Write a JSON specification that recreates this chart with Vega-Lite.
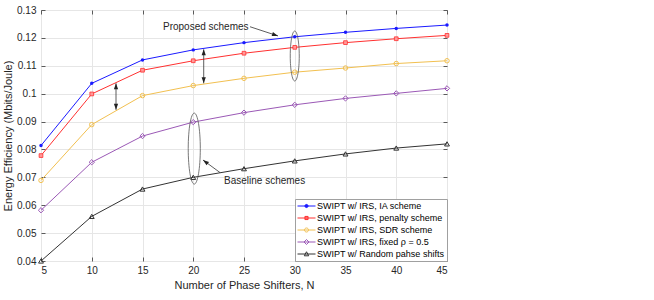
{
  "$schema": "https://vega.github.io/schema/vega-lite/v6.json",
  "width": 406,
  "height": 251,
  "autosize": {"type": "none"},
  "padding": {"left": 41, "top": 10, "right": 207, "bottom": 39},
  "config": {
    "font": "Liberation Sans",
    "view": {"stroke": "#5a5a5a", "strokeWidth": 1},
    "axis": {
      "labelFontSize": 10, "labelColor": "#262626", "labelFont": "Liberation Sans",
      "titleFontSize": 11, "titleFontWeight": "normal", "titleColor": "#262626", "titleFont": "Liberation Sans",
      "gridColor": "#e6e6e6", "gridOpacity": 1, "domain": false,
      "tickColor": "#5a5a5a", "tickSize": -4, "labelOverlap": false
    },
    "legend": {
      "orient": "bottom-right", "offset": 0, "padding": 2,
      "strokeColor": "#a0a0a0", "fillColor": "white",
      "labelFontSize": 9, "labelColor": "#000000", "labelFont": "Liberation Sans",
      "symbolSize": 81, "labelOffset": 10, "rowPadding": 2,
      "symbolStrokeWidth": 1, "labelLimit": 300
    }
  },
  "datasets": {
    "ee": [
      {"N": 5, "EE": 0.0814, "scheme": "SWIPT w/ IRS, IA scheme"},
      {"N": 10, "EE": 0.1037, "scheme": "SWIPT w/ IRS, IA scheme"},
      {"N": 15, "EE": 0.1121, "scheme": "SWIPT w/ IRS, IA scheme"},
      {"N": 20, "EE": 0.1157, "scheme": "SWIPT w/ IRS, IA scheme"},
      {"N": 25, "EE": 0.1183, "scheme": "SWIPT w/ IRS, IA scheme"},
      {"N": 30, "EE": 0.1204, "scheme": "SWIPT w/ IRS, IA scheme"},
      {"N": 35, "EE": 0.1220, "scheme": "SWIPT w/ IRS, IA scheme"},
      {"N": 40, "EE": 0.1234, "scheme": "SWIPT w/ IRS, IA scheme"},
      {"N": 45, "EE": 0.1246, "scheme": "SWIPT w/ IRS, IA scheme"},
      {"N": 5, "EE": 0.0778, "scheme": "SWIPT w/ IRS, penalty scheme"},
      {"N": 10, "EE": 0.0999, "scheme": "SWIPT w/ IRS, penalty scheme"},
      {"N": 15, "EE": 0.1084, "scheme": "SWIPT w/ IRS, penalty scheme"},
      {"N": 20, "EE": 0.1118, "scheme": "SWIPT w/ IRS, penalty scheme"},
      {"N": 25, "EE": 0.1145, "scheme": "SWIPT w/ IRS, penalty scheme"},
      {"N": 30, "EE": 0.1166, "scheme": "SWIPT w/ IRS, penalty scheme"},
      {"N": 35, "EE": 0.1183, "scheme": "SWIPT w/ IRS, penalty scheme"},
      {"N": 40, "EE": 0.1197, "scheme": "SWIPT w/ IRS, penalty scheme"},
      {"N": 45, "EE": 0.1209, "scheme": "SWIPT w/ IRS, penalty scheme"},
      {"N": 5, "EE": 0.0689, "scheme": "SWIPT w/ IRS, SDR scheme"},
      {"N": 10, "EE": 0.0889, "scheme": "SWIPT w/ IRS, SDR scheme"},
      {"N": 15, "EE": 0.0993, "scheme": "SWIPT w/ IRS, SDR scheme"},
      {"N": 20, "EE": 0.1029, "scheme": "SWIPT w/ IRS, SDR scheme"},
      {"N": 25, "EE": 0.1055, "scheme": "SWIPT w/ IRS, SDR scheme"},
      {"N": 30, "EE": 0.1077, "scheme": "SWIPT w/ IRS, SDR scheme"},
      {"N": 35, "EE": 0.1092, "scheme": "SWIPT w/ IRS, SDR scheme"},
      {"N": 40, "EE": 0.1108, "scheme": "SWIPT w/ IRS, SDR scheme"},
      {"N": 45, "EE": 0.1118, "scheme": "SWIPT w/ IRS, SDR scheme"},
      {"N": 5, "EE": 0.0582, "scheme": "SWIPT w/ IRS, fixed ρ = 0.5"},
      {"N": 10, "EE": 0.0754, "scheme": "SWIPT w/ IRS, fixed ρ = 0.5"},
      {"N": 15, "EE": 0.0848, "scheme": "SWIPT w/ IRS, fixed ρ = 0.5"},
      {"N": 20, "EE": 0.0898, "scheme": "SWIPT w/ IRS, fixed ρ = 0.5"},
      {"N": 25, "EE": 0.0932, "scheme": "SWIPT w/ IRS, fixed ρ = 0.5"},
      {"N": 30, "EE": 0.0960, "scheme": "SWIPT w/ IRS, fixed ρ = 0.5"},
      {"N": 35, "EE": 0.0983, "scheme": "SWIPT w/ IRS, fixed ρ = 0.5"},
      {"N": 40, "EE": 0.1001, "scheme": "SWIPT w/ IRS, fixed ρ = 0.5"},
      {"N": 45, "EE": 0.1019, "scheme": "SWIPT w/ IRS, fixed ρ = 0.5"},
      {"N": 5, "EE": 0.0400, "scheme": "SWIPT w/ Random pahse shifts"},
      {"N": 10, "EE": 0.0560, "scheme": "SWIPT w/ Random pahse shifts"},
      {"N": 15, "EE": 0.0658, "scheme": "SWIPT w/ Random pahse shifts"},
      {"N": 20, "EE": 0.0700, "scheme": "SWIPT w/ Random pahse shifts"},
      {"N": 25, "EE": 0.0731, "scheme": "SWIPT w/ Random pahse shifts"},
      {"N": 30, "EE": 0.0759, "scheme": "SWIPT w/ Random pahse shifts"},
      {"N": 35, "EE": 0.0784, "scheme": "SWIPT w/ Random pahse shifts"},
      {"N": 40, "EE": 0.0805, "scheme": "SWIPT w/ Random pahse shifts"},
      {"N": 45, "EE": 0.0820, "scheme": "SWIPT w/ Random pahse shifts"}
    ],
    "arrows": [
      {"N": 25.59, "EE": 0.1240, "N2": 28.35, "EE2": 0.1207},
      {"N": 22.64, "EE": 0.0717, "N2": 20.96, "EE2": 0.0762},
      {"N": 12.39, "EE": 0.1037, "N2": 12.39, "EE2": 0.0942},
      {"N": 21.03, "EE": 0.1159, "N2": 21.03, "EE2": 0.1037}
    ],
    "heads": [
      {"N": 28.35, "EE": 0.1207, "dir": "proposed"},
      {"N": 20.96, "EE": 0.0762, "dir": "baseline"},
      {"N": 12.39, "EE": 0.1037, "dir": "up"},
      {"N": 21.03, "EE": 0.1159, "dir": "up"},
      {"N": 12.39, "EE": 0.0942, "dir": "down"},
      {"N": 21.03, "EE": 0.1037, "dir": "down"}
    ],
    "ellipses": [
      {"N": 30, "EE": 0.1135, "which": "proposed"},
      {"N": 20.1, "EE": 0.0803, "which": "baseline"}
    ],
    "labels": [
      {"N": 25.45, "EE": 0.1239, "text": "Proposed schemes", "which": "proposed"},
      {"N": 23.03, "EE": 0.0687, "text": "Baseline schemes", "which": "baseline"}
    ]
  },
  "layer": [
    {
      "layer": [
        {
          "data": {"name": "ee"},
          "mark": {"type": "line", "strokeWidth": 1},
          "encoding": {
            "x": {"field": "N", "type": "quantitative",
              "scale": {"domain": [5, 45], "nice": false, "zero": false},
              "axis": {"values": [5, 10, 15, 20, 25, 30, 35, 40, 45], "tickCount": 20, "title": "Number of Phase Shifters, N", "labelPadding": 8, "titlePadding": 4}},
            "y": {"field": "EE", "type": "quantitative",
              "scale": {"domain": [0.04, 0.13], "nice": false, "zero": false},
              "axis": {"values": [0.04, 0.05, 0.06, 0.07, 0.08, 0.09, 0.1, 0.11, 0.12, 0.13], "tickCount": 20, "labelOverlap": false, "format": "~g", "title": "Energy Efficiency (Mbits/Joule)", "labelPadding": 9, "titlePadding": 3}},
            "color": {"field": "scheme", "type": "nominal",
              "scale": {
                "domain": ["SWIPT w/ IRS, IA scheme", "SWIPT w/ IRS, penalty scheme", "SWIPT w/ IRS, SDR scheme", "SWIPT w/ IRS, fixed ρ = 0.5", "SWIPT w/ Random pahse shifts"],
                "range": ["#1a1aff", "#ff3030", "#f2c050", "#9b59b6", "#333333"]
              },
              "legend": {
                "title": null,
                "encode": {
                  "symbols": {
                    "update": {
                      "shape": {"signal": "datum.value === 'SWIPT w/ IRS, IA scheme' ? 'M-1,0L3,0M1.35,0A0.35,0.35 0 1,1 0.65,0A0.35,0.35 0 1,1 1.35,0Z' : datum.value === 'SWIPT w/ IRS, penalty scheme' ? 'M-1,0L3,0M0.65,-0.35L1.35,-0.35L1.35,0.35L0.65,0.35Z' : datum.value === 'SWIPT w/ IRS, SDR scheme' ? 'M-1,0L3,0M1.45,0A0.45,0.45 0 1,1 0.55,0A0.45,0.45 0 1,1 1.45,0Z' : datum.value === 'SWIPT w/ Random pahse shifts' ? 'M-1,0L3,0M1,-0.5L1.5,0.4L0.5,0.4Z' : 'M-1,0L3,0M1,-0.55L1.55,0L1,0.55L0.45,0Z'"},
                      "fill": {"signal": "datum.value === 'SWIPT w/ IRS, IA scheme' ? '#1a1aff' : datum.value === 'SWIPT w/ IRS, penalty scheme' ? '#ff9a9a' : 'transparent'"},
                      "stroke": {"signal": "scale('color', datum.value)"},
                      "strokeWidth": {"value": 1},
                      "opacity": {"value": 1}
                    }
                  }
                }
              }
            }
          }
        },
        {
          "data": {"name": "ee"},
          "transform": [{"filter": "datum.scheme === 'SWIPT w/ IRS, IA scheme'"}],
          "mark": {"type": "point", "shape": "circle", "filled": true, "color": "#1a1aff", "size": 12, "opacity": 1},
          "encoding": {"x": {"field": "N", "type": "quantitative"}, "y": {"field": "EE", "type": "quantitative"}}
        },
        {
          "data": {"name": "ee"},
          "transform": [{"filter": "datum.scheme === 'SWIPT w/ IRS, penalty scheme'"}],
          "mark": {"type": "point", "shape": "square", "filled": true, "fill": "#ff9a9a", "stroke": "#ff3030", "strokeWidth": 0.8, "size": 14, "opacity": 1},
          "encoding": {"x": {"field": "N", "type": "quantitative"}, "y": {"field": "EE", "type": "quantitative"}}
        },
        {
          "data": {"name": "ee"},
          "transform": [{"filter": "datum.scheme === 'SWIPT w/ IRS, SDR scheme'"}],
          "mark": {"type": "point", "shape": "circle", "filled": false, "stroke": "#f2c050", "strokeWidth": 1, "size": 20, "opacity": 1},
          "encoding": {"x": {"field": "N", "type": "quantitative"}, "y": {"field": "EE", "type": "quantitative"}}
        },
        {
          "data": {"name": "ee"},
          "transform": [{"filter": "datum.scheme === 'SWIPT w/ IRS, fixed ρ = 0.5'"}],
          "mark": {"type": "point", "shape": "diamond", "filled": false, "stroke": "#9b59b6", "strokeWidth": 1, "size": 28, "opacity": 1},
          "encoding": {"x": {"field": "N", "type": "quantitative"}, "y": {"field": "EE", "type": "quantitative"}}
        },
        {
          "data": {"name": "ee"},
          "transform": [{"filter": "datum.scheme === 'SWIPT w/ Random pahse shifts'"}],
          "mark": {"type": "point", "shape": "triangle-up", "filled": false, "stroke": "#333333", "strokeWidth": 1, "size": 24, "opacity": 1},
          "encoding": {"x": {"field": "N", "type": "quantitative"}, "y": {"field": "EE", "type": "quantitative"}}
        },
        {
          "data": {"name": "ellipses"},
          "transform": [{"filter": "datum.which === 'proposed'"}],
          "mark": {"type": "point", "filled": false, "stroke": "#555555", "strokeWidth": 0.8, "opacity": 1, "size": 2500,
            "shape": "M0,-1C0.0994,-1 0.18,-0.552 0.18,0C0.18,0.552 0.0994,1 0,1C-0.0994,1 -0.18,0.552 -0.18,0C-0.18,-0.552 -0.0994,-1 0,-1Z"},
          "encoding": {"x": {"field": "N", "type": "quantitative"}, "y": {"field": "EE", "type": "quantitative"}}
        },
        {
          "data": {"name": "ellipses"},
          "transform": [{"filter": "datum.which === 'baseline'"}],
          "mark": {"type": "point", "filled": false, "stroke": "#555555", "strokeWidth": 0.8, "opacity": 1, "size": 5041,
            "shape": "M0,-1C0.0938,-1 0.17,-0.552 0.17,0C0.17,0.552 0.0938,1 0,1C-0.0938,1 -0.17,0.552 -0.17,0C-0.17,-0.552 -0.0938,-1 0,-1Z"},
          "encoding": {"x": {"field": "N", "type": "quantitative"}, "y": {"field": "EE", "type": "quantitative"}}
        },
        {
          "data": {"name": "arrows"},
          "mark": {"type": "rule", "stroke": "#333333", "strokeWidth": 0.8},
          "encoding": {
            "x": {"field": "N", "type": "quantitative"}, "y": {"field": "EE", "type": "quantitative"},
            "x2": {"field": "N2"}, "y2": {"field": "EE2"}
          }
        },
        {
          "data": {"name": "heads"},
          "transform": [{"filter": "datum.dir === 'proposed'"}],
          "mark": {"type": "point", "filled": true, "color": "#222222", "opacity": 1, "size": 36, "angle": 108, "shape": "M0,0L-0.7,2L0.7,2Z"},
          "encoding": {"x": {"field": "N", "type": "quantitative"}, "y": {"field": "EE", "type": "quantitative"}}
        },
        {
          "data": {"name": "heads"},
          "transform": [{"filter": "datum.dir === 'baseline'"}],
          "mark": {"type": "point", "filled": true, "color": "#222222", "opacity": 1, "size": 36, "angle": 307, "shape": "M0,0L-0.7,2L0.7,2Z"},
          "encoding": {"x": {"field": "N", "type": "quantitative"}, "y": {"field": "EE", "type": "quantitative"}}
        },
        {
          "data": {"name": "heads"},
          "transform": [{"filter": "datum.dir === 'up'"}],
          "mark": {"type": "point", "filled": true, "color": "#222222", "opacity": 1, "size": 36, "angle": 0, "shape": "M0,0L-0.7,2L0.7,2Z"},
          "encoding": {"x": {"field": "N", "type": "quantitative"}, "y": {"field": "EE", "type": "quantitative"}}
        },
        {
          "data": {"name": "heads"},
          "transform": [{"filter": "datum.dir === 'down'"}],
          "mark": {"type": "point", "filled": true, "color": "#222222", "opacity": 1, "size": 36, "angle": 180, "shape": "M0,0L-0.7,2L0.7,2Z"},
          "encoding": {"x": {"field": "N", "type": "quantitative"}, "y": {"field": "EE", "type": "quantitative"}}
        },
        {
          "data": {"name": "labels"},
          "transform": [{"filter": "datum.which === 'proposed'"}],
          "mark": {"type": "text", "align": "right", "baseline": "middle", "fontSize": 10, "color": "#262626"},
          "encoding": {"x": {"field": "N", "type": "quantitative"}, "y": {"field": "EE", "type": "quantitative"}, "text": {"field": "text"}}
        },
        {
          "data": {"name": "labels"},
          "transform": [{"filter": "datum.which === 'baseline'"}],
          "mark": {"type": "text", "align": "left", "baseline": "middle", "fontSize": 10, "color": "#262626"},
          "encoding": {"x": {"field": "N", "type": "quantitative"}, "y": {"field": "EE", "type": "quantitative"}, "text": {"field": "text"}}
        }
      ]
    },
    {
      "data": {"name": "ee"},
      "mark": {"type": "point", "opacity": 0},
      "encoding": {
        "x": {"field": "N", "type": "quantitative",
          "axis": {"orient": "top", "values": [5, 10, 15, 20, 25, 30, 35, 40, 45], "tickCount": 20, "labels": false, "title": null, "grid": false}},
        "y": {"field": "EE", "type": "quantitative",
          "axis": {"orient": "right", "values": [0.04, 0.05, 0.06, 0.07, 0.08, 0.09, 0.1, 0.11, 0.12, 0.13], "tickCount": 20, "labels": false, "title": null, "grid": false}}
      }
    }
  ],
  "resolve": {"axis": {"x": "independent", "y": "independent"}}
}
